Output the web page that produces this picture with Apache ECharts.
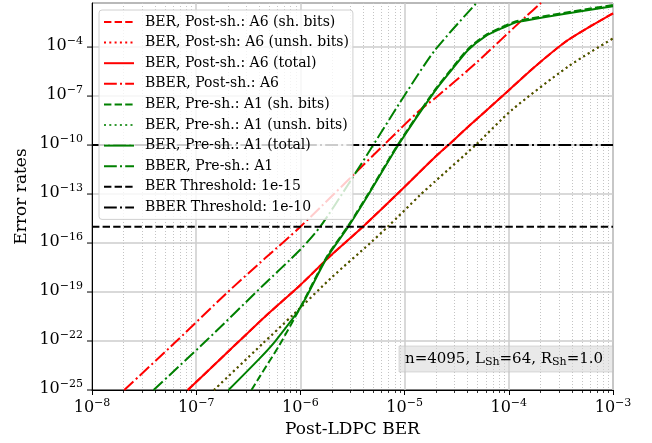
<!DOCTYPE html>
<html><head><meta charset="utf-8">
<script src="https://cdn.jsdelivr.net/npm/echarts@6/dist/echarts.min.js"></script>
<style>html,body{margin:0;padding:0;background:#fff}#c{width:652px;height:443px}</style>
</head><body><div id="c"></div>
<script>
// ---- axis ranges and ticks ----
const xMin = 1e-8, xMax = 1e-3;
const yMin = 1e-25, yMax = 0.05;
const yTicks = [1e-25, 1e-22, 1e-19, 1e-16, 1e-13, 1e-10, 1e-7, 1e-4];

// ---- series values (x = Post-LDPC BER, y = error rate) ----
// BER, Post-sh.: A6 (sh. bits)  (lies under the total curve)
const a6ShX = [8.3e-8, 1.95e-7, 4.57e-7, 1.0e-6, 1.9e-6, 3.98e-6, 8.3e-6, 1.95e-5, 2.63e-5, 4.07e-5, 8.9e-5, 1.78e-4, 3.7e-4, 1.0e-3];
const a6ShY = [1e-25, 1.78e-23, 3.1e-21, 2.7e-19, 1.45e-17, 1e-15, 8.7e-14, 1.78e-11, 1e-10, 1.32e-9, 1.15e-7, 6.3e-6, 2.7e-4, 1.17e-2];
// BER, unshaped bits (same for A6 and A1)
const unshX = [1.48e-7, 4.37e-7, 8.5e-7, 2.0e-6, 4.68e-6, 6.9e-6, 1.41e-5, 1.95e-5, 4.8e-5, 1.07e-4, 3.7e-4, 1.0e-3];
const unshY = [1e-25, 7.2e-23, 4.0e-21, 7.9e-19, 1e-16, 1e-15, 8.7e-14, 5.75e-13, 1e-10, 1.41e-8, 6.3e-6, 3.4e-4];
// BER, Post-sh.: A6 (total)
const a6TotX = [8.3e-8, 1.95e-7, 4.57e-7, 1.0e-6, 1.9e-6, 3.98e-6, 8.3e-6, 1.95e-5, 2.63e-5, 4.07e-5, 8.9e-5, 1.78e-4, 3.7e-4, 1.0e-3];
const a6TotY = [1e-25, 1.78e-23, 3.1e-21, 2.7e-19, 1.45e-17, 1e-15, 8.7e-14, 1.78e-11, 1e-10, 1.32e-9, 1.15e-7, 6.3e-6, 2.7e-4, 1.17e-2];
// BBER, Post-sh.: A6
const a6BbX = [2.04e-8, 6.6e-8, 1.95e-7, 4.57e-7, 1.0e-6, 6.3e-6, 1.41e-5, 1.95e-5, 4.8e-5, 1.45e-4, 2.04e-4];
const a6BbY = [1e-25, 1.1e-22, 8.3e-20, 1.15e-17, 1e-15, 1e-10, 1.41e-8, 7.2e-8, 1e-5, 7.2e-3, 5.0e-2];
// BER, Pre-sh.: A1 (sh. bits)
const a1ShX = [3.39e-7, 4.07e-7, 6.3e-7, 1.0e-6, 1.78e-6, 2.88e-6, 4.47e-6, 8.7e-6, 1.95e-5, 2.82e-5, 4.07e-5, 5.9e-5, 8.5e-5, 1.23e-4, 1.0e-3];
const a1ShY = [1e-25, 6.6e-25, 5.75e-23, 1.17e-20, 1.35e-17, 1.17e-15, 1.02e-13, 1.17e-10, 2.35e-7, 4.6e-6, 7.8e-5, 5.1e-4, 1.62e-3, 4.1e-3, 3.75e-2];
// BER, Pre-sh.: A1 (total)
const a1TotX = [2.04e-7, 4.07e-7, 5.75e-7, 1.0e-6, 1.78e-6, 2.88e-6, 4.47e-6, 8.7e-6, 1.95e-5, 2.82e-5, 4.07e-5, 5.9e-5, 8.5e-5, 1.23e-4, 1.0e-3];
const a1TotY = [1e-25, 8.7e-24, 1e-22, 1.12e-20, 1.15e-17, 1e-15, 8.7e-14, 1e-10, 2.0e-7, 3.9e-6, 6.6e-5, 4.4e-4, 1.38e-3, 3.5e-3, 3.2e-2];
// BBER, Pre-sh.: A1
const a1BbX = [3.9e-8, 1.26e-7, 4.37e-7, 1.0e-6, 1.55e-6, 3.02e-6, 5.0e-6, 9.8e-6, 1.95e-5, 4.9e-5];
const a1BbY = [1e-25, 1.1e-22, 2.5e-19, 4.0e-17, 1e-15, 6.3e-13, 1e-10, 9.1e-8, 6.3e-5, 5.0e-2];
// thresholds
const berThreshold = 1e-15;
const bberThreshold = 1e-10;

const names = ['BER, Post-sh.: A6 (sh. bits)', 'BER, Post-sh: A6 (unsh. bits)', 'BER, Post-sh.: A6 (total)', 'BBER, Post-sh.: A6',
  'BER, Pre-sh.: A1 (sh. bits)', 'BER, Pre-sh.: A1 (unsh. bits)', 'BER, Pre-sh.: A1 (total)', 'BBER, Pre-sh.: A1',
  'BER Threshold: 1e-15', 'BBER Threshold: 1e-10'];

const FONT = 'DejaVu Serif';
const DASHED = [7.4, 3.2], DOTTED = [2, 3.3], DASHDOT = [12.8, 3.2, 2, 3.2];
const pairs = (xs, ys) => xs.map((x, i) => [x, ys[i]]);

function mk(name, xs, ys, color, type, smooth) {
  return {
    name, type: 'line', data: pairs(xs, ys), symbol: 'none', clip: true,
    smooth: smooth ? 0.25 : false,
    lineStyle: { color, width: 2, type }, itemStyle: { color }
  };
}

function expLabel(v) {
  const e = Math.round(Math.log10(v));
  return '{b|10}{s|' + (e < 0 ? '\u2212' : '') + Math.abs(e) + '}';
}
const richLbl = {
  b: { fontFamily: FONT, fontSize: 16, lineHeight: 20, color: '#000' },
  s: { fontFamily: FONT, fontSize: 11, lineHeight: 10, verticalAlign: 'top', color: '#000' }
};

const option = {
  animation: false,
  backgroundColor: '#fff',
  grid: { left: 92, right: 39, top: 3, bottom: 53, outerBoundsMode: 'none', show: true, borderColor: '#000', borderWidth: 1, backgroundColor: 'transparent' },
  xAxis: {
    type: 'log', logBase: 10, min: xMin, max: xMax, interval: 1,
    name: 'Post-LDPC BER', nameLocation: 'middle', nameGap: 28,
    nameTextStyle: { fontFamily: FONT, fontSize: 17, color: '#000' },
    axisLine: { show: true, lineStyle: { color: '#000', width: 1 } },
    axisTick: { show: true, length: 5, lineStyle: { color: '#000', width: 1 } },
    axisLabel: { margin: 8, formatter: expLabel, rich: richLbl },
    splitLine: { show: true, lineStyle: { color: '#cccccc', width: 1.5 } }
  },
  yAxis: {
    type: 'log', logBase: 10, min: yMin, max: yMax, interval: 3,
    name: 'Error rates', nameLocation: 'middle', nameGap: 62,
    nameTextStyle: { fontFamily: FONT, fontSize: 17, color: '#000' },
    axisLine: { show: true, lineStyle: { color: '#000', width: 1 } },
    axisTick: { show: false },
    axisLabel: { show: false },
    splitLine: { show: true, lineStyle: { color: '#cccccc', width: 1.5 } }
  },
  legend: {
    orient: 'vertical', left: 99, top: 10, padding: [5, 4, 5, 4],
    itemGap: 6.6, itemWidth: 30, itemHeight: 14,
    backgroundColor: 'rgba(255,255,255,0.8)', borderColor: '#d0d0d0', borderWidth: 1, borderRadius: 3,
    itemStyle: { opacity: 0 },
    textStyle: { fontFamily: FONT, fontSize: 14, color: '#000', padding: [0, 0, 0, 6], lineHeight: 14 },
    data: names
  },
  series: [
    mk(names[0], a6ShX, a6ShY, '#ff0000', DASHED, true),
    mk(names[1], unshX, unshY, '#ff0000', DOTTED, true),
    mk(names[2], a6TotX, a6TotY, '#ff0000', 'solid', true),
    mk(names[3], a6BbX, a6BbY, '#ff0000', DASHDOT, true),
    mk(names[4], a1ShX, a1ShY, '#008000', DASHED, true),
    mk(names[5], unshX, unshY, '#008000', DOTTED, true),
    mk(names[6], a1TotX, a1TotY, '#008000', 'solid', true),
    mk(names[7], a1BbX, a1BbY, '#008000', DASHDOT, true),
    mk(names[8], [xMin, xMax], [berThreshold, berThreshold], '#000000', DASHED, false),
    mk(names[9], [xMin, xMax], [bberThreshold, bberThreshold], '#000000', DASHDOT, false)
  ]
};
option.series[5].lineStyle.opacity = 0.8;

const chart = echarts.init(document.getElementById('c'), null, { renderer: 'canvas' });
chart.setOption(option);

// minor x grid / ticks, y ticks and y tick labels positioned through the axes
const xMinor = [];
for (let d = -8; d < -3; d++) for (let k = 2; k <= 9; k++) xMinor.push(k * Math.pow(10, d));
const yTopPx = chart.convertToPixel({ yAxisIndex: 0 }, yMax);
const yBotPx = chart.convertToPixel({ yAxisIndex: 0 }, yMin);
const xLeftPx = chart.convertToPixel({ xAxisIndex: 0 }, xMin);
const g = [];
xMinor.forEach(v => {
  const px = Math.round(chart.convertToPixel({ xAxisIndex: 0 }, v)) + 0.5;
  g.push({ type: 'line', silent: true, z: 1, shape: { x1: px, y1: yTopPx, x2: px, y2: yBotPx }, style: { stroke: '#c4c4c4', lineWidth: 1, lineDash: [1, 2] } });
  g.push({ type: 'line', silent: true, z: 1, shape: { x1: px, y1: yBotPx, x2: px, y2: yBotPx + 3 }, style: { stroke: '#000', lineWidth: 0.8 } });
});
yTicks.forEach(v => {
  const py = chart.convertToPixel({ yAxisIndex: 0 }, v);
  g.push({ type: 'line', silent: true, z: 1, shape: { x1: xLeftPx - 5, y1: py, x2: xLeftPx, y2: py }, style: { stroke: '#000', lineWidth: 1 } });
  g.push({ type: 'text', silent: true, z: 1, x: xLeftPx - 9, y: py - 1, style: {
    text: expLabel(v), align: 'right', verticalAlign: 'middle',
    rich: {
      b: { fontFamily: FONT, fontSize: 16, lineHeight: 20, fill: '#000' },
      s: { fontFamily: FONT, fontSize: 11, lineHeight: 10, verticalAlign: 'top', fill: '#000' }
    }
  } });
});
// annotation box
g.push({ type: 'rect', silent: true, z: 5, shape: { x: 399, y: 346, width: 214, height: 26 }, style: { fill: 'rgba(211,211,211,0.5)', stroke: 'rgba(190,190,190,0.5)', lineWidth: 1 } });
g.push({ type: 'text', silent: true, z: 6, x: 405, y: 359, style: {
  text: '{a|n=4095, L}{s|Sh}{a|=64, R}{s|Sh}{a|=1.0}',
  verticalAlign: 'middle', align: 'left',
  rich: {
    a: { fontFamily: FONT, fontSize: 15, lineHeight: 18, fill: '#000' },
    s: { fontFamily: FONT, fontSize: 11, lineHeight: 6, verticalAlign: 'bottom', fill: '#000' }
  }
} });
chart.setOption({ graphic: { elements: g } });
</script>
</body></html>
